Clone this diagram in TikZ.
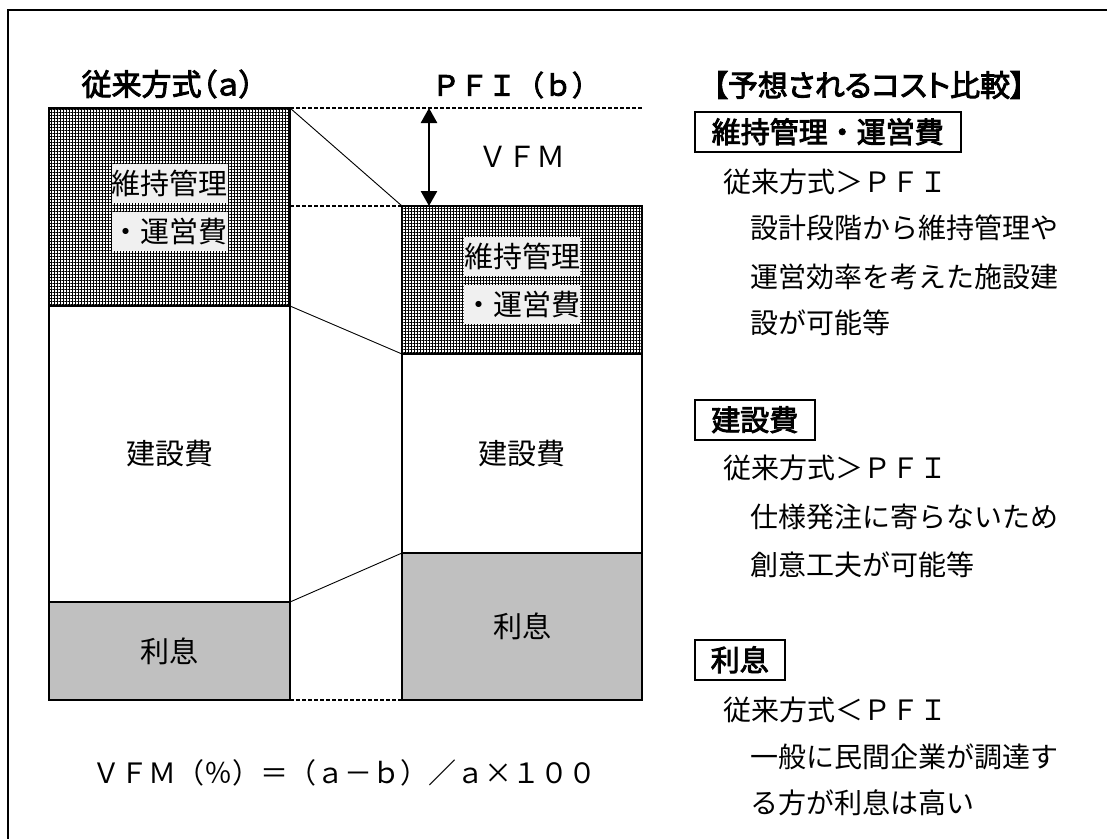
\documentclass[tikz,border=0pt]{standalone}
\usepackage{fontspec}
\usetikzlibrary{arrows.meta,patterns.meta}
\newfontfamily\jp{Noto Sans CJK JP}
\newfontfamily\jpb[FakeBold=3]{Noto Sans CJK JP}
\newfontfamily\jppb[RawFeature=+palt,FakeBold=3]{Noto Sans CJK JP}
\newcommand\jfs[1]{\fontsize{#1}{#1}\selectfont}
\definecolor{intgray}{RGB}{192,192,192}
\definecolor{labelbg}{RGB}{240,240,240}
\begin{document}
\begin{tikzpicture}[x=1pt,y=-1pt,
  bar/.style={draw, line width=1.6pt, inner sep=0pt, outer sep=0pt, anchor=north west},
  hatchfill/.style={pattern={Hatch[angle=0,distance=3pt,line width=1pt]}},
  lbl/.style={fill=labelbg, inner xsep=0pt, inner ysep=0pt, minimum height=39pt, font=\jp\jfs{29}},
  inbar/.style={font=\jp\jfs{29}},
  head/.style={font=\jppb\jfs{30}, inner sep=0pt},
  hbox/.style={draw, line width=1.5pt, inner sep=0pt, minimum height=40pt, anchor=north west, font=\jpb\jfs{29}},
  body/.style={anchor=west, inner sep=0pt, font=\jp\jfs{28}},
  thinline/.style={line width=0.9pt},
  dline/.style={line width=1.4pt, dash pattern=on 4pt off 2pt}
]
\useasboundingbox (0,0) rectangle (1107,839);
% outer frame
\coordinate (fr1) at (1107,10);
\coordinate (fr2) at (8,10);
\coordinate (fr3) at (8,839);
\draw[line width=2pt] (fr1) -- (fr2) -- (fr3);

% headings
\node[head] (ha) at (168,84) {従来方式（ａ）};
\node[head, font=\jpb\jfs{28}] (hb) at (516,85) {ＰＦＩ（ｂ）};
\node[head] (hc) at (869,85) {【予想されるコスト比較】};

% bars (a)
\node[bar, hatchfill, minimum width=241pt, minimum height=198pt] (am) at (49,108) {};
\node[bar, minimum width=241pt, minimum height=296pt] (ac) at (49,306) {};
\node[bar, fill=intgray, minimum width=241pt, minimum height=98pt] (ai) at (49,602) {};
% bars (b)
\node[bar, hatchfill, minimum width=240pt, minimum height=148pt] (bm) at (402,206) {};
\node[bar, minimum width=240pt, minimum height=199pt] (bc) at (402,354) {};
\node[bar, fill=intgray, minimum width=240pt, minimum height=147pt] (bi) at (402,553) {};

% labels inside bars
\node[lbl] (am1) at (169.5,183) {維持管理};
\node[lbl] (am2) at (169.5,231) {・運営費};
\node[lbl] (bm1) at (522,256) {維持管理};
\node[lbl] (bm2) at (522,304) {・運営費};
\node[inbar] (acl) at (ac.center) {建設費};
\node[inbar] (bcl) at (bc.center) {建設費};
\node[inbar] (ail) at (ai.center) {利息};
\node[inbar] (bil) at (bi.center) {利息};

% connectors
\draw[thinline] (am.north east) -- (bm.north west);
\draw[thinline] (am.south east) -- (bm.south west);
\draw[thinline] (ac.south east) -- (bc.south west);
\draw[dline] (am.north east) -- (bm.north east |- am.north);
\draw[dline] (am.east |- bm.north) -- (bm.north west);
\draw[dline] (ai.south east) -- (bi.south west);

% VFM arrow
\coordinate (vt) at (429,108);
\coordinate (vb) at (429,206);
\draw[line width=2.6pt, {Triangle[width=16pt,length=15pt]}-{Triangle[width=16pt,length=15pt]}] (vt) -- (vb);
\node[font=\jp\jfs{29}] (vfm) at (522,157) {ＶＦＭ};

% formula
\node[font=\jp\jfs{28}] (form) at (344,773) {ＶＦＭ（％）＝（ａ－ｂ）／ａ×１００};

% right column
\node[hbox, minimum width=266pt] (k1) at (694,111) {維持管理・運営費};
\node[body] (k1a) at (723,182) {従来方式＞ＰＦＩ};
\node[body] (k1b) at (750,228) {設計段階から維持管理や};
\node[body] (k1c) at (750,277) {運営効率を考えた施設建};
\node[body] (k1d) at (750,323) {設が可能等};

\node[hbox, minimum width=120pt] (k2) at (694,399) {建設費};
\node[body] (k2a) at (723,468) {従来方式＞ＰＦＩ};
\node[body] (k2b) at (750,517) {仕様発注に寄らないため};
\node[body] (k2c) at (750,565) {創意工夫が可能等};

\node[hbox, minimum width=90pt] (k3) at (694,639) {利息};
\node[body] (k3a) at (723,710) {従来方式＜ＰＦＩ};
\node[body] (k3b) at (750,757) {一般に民間企業が調達す};
\node[body] (k3c) at (750,803) {る方が利息は高い};
\end{tikzpicture}
\end{document}
